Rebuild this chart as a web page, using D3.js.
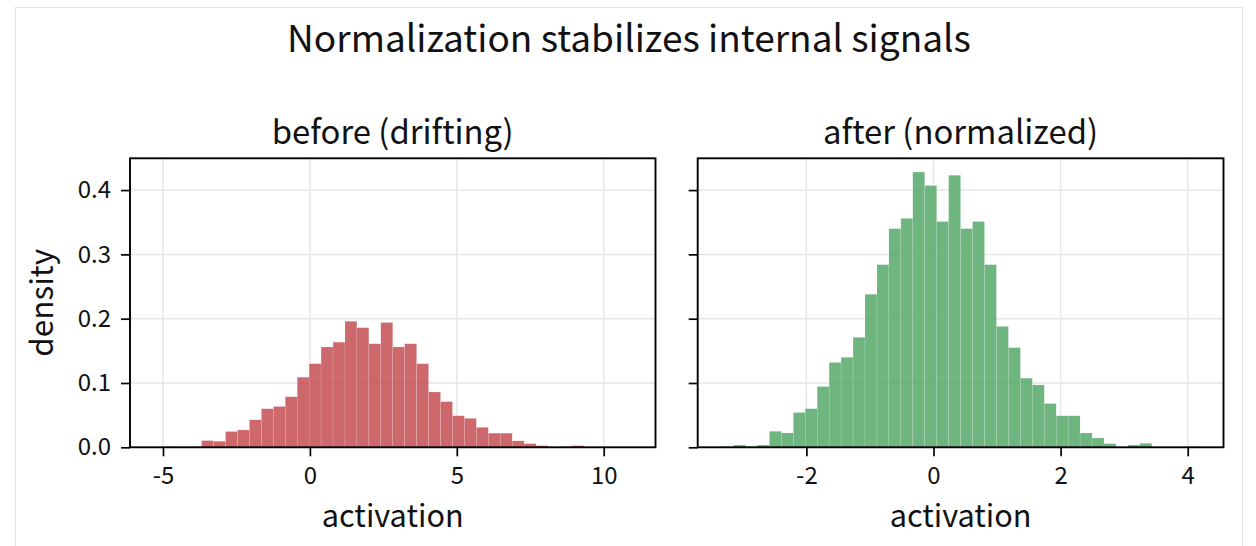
<!DOCTYPE html>
<html>
<head>
<meta charset="utf-8">
<script src="https://cdn.jsdelivr.net/npm/d3@7"></script>
<style>
  body { margin: 0; background: #fff; }
  text { font-family: "Noto Sans CJK SC", "Source Sans Pro", "Noto Sans", sans-serif; fill: #111; }
</style>
</head>
<body>
<script>
// histogram densities, 40 equal bins over each range
var beforeRange = [-5.31, 10.95];
var beforeDensity = [0.0005, 0.001, 0.0005, 0.001, 0.0104, 0.0094, 0.0245, 0.027, 0.0427, 0.060,
    0.0635, 0.0786, 0.109, 0.130, 0.156, 0.1635, 0.196, 0.186, 0.161, 0.194,
    0.156, 0.161, 0.130, 0.086, 0.071, 0.049, 0.045, 0.031, 0.022, 0.022,
    0.010, 0.0057, 0.0026, 0.0005, 0.001, 0.0026, 0, 0, 0, 0.0005];

var afterRange = [-3.334, 4.187];
var afterDensity = [0.001, 0.0036, 0.0016, 0.0036, 0.025, 0.0223, 0.054, 0.060, 0.0945, 0.132,
    0.140, 0.171, 0.238, 0.284, 0.340, 0.356, 0.428, 0.407, 0.351, 0.423,
    0.340, 0.351, 0.284, 0.188, 0.155, 0.1075, 0.097, 0.068, 0.049, 0.049,
    0.0223, 0.0145, 0.0057, 0, 0.0036, 0.0062, 0, 0, 0, 0.001];

var beforeTicks = [-5, 0, 5, 10];
var afterTicks = [-2, 0, 2, 4];
var yTicks = [0, 0.1, 0.2, 0.3, 0.4];

var titles = ["before (drifting)", "after (normalized)"];
var mainTitle = "Normalization stabilizes internal signals";

window.onload = draw();

function draw(){

    var width = 1256,
        height = 546,
        top = 158.3,
        bottom = 447.3;

    var svg = d3.select("body")
        .append("svg")
        .attr("width", width)
        .attr("height", height);

    // faint figure border
    svg.append("rect")
        .attr("x", 15.5).attr("y", 7.5)
        .attr("width", 1227).attr("height", 560)
        .attr("fill", "none")
        .attr("stroke", "#e2e2e2")
        .attr("stroke-width", 1);

    function fitWidth(sel, w){
        sel.attr("font-size", 20);
        var len = sel.node().getComputedTextLength();
        sel.attr("font-size", 20 * w / len);
    }

    // tick font size from the width of "0.0"
    var probe = svg.append("text").text("0.0");
    fitWidth(probe, 33.3);
    var tickFont = +probe.attr("font-size");
    probe.remove();

    var yMax = d3.max(beforeDensity.concat(afterDensity)) * 1.05;
    var y = d3.scaleLinear()
        .domain([0, yMax])
        .range([bottom, top]);

    svg.append("text")
        .attr("x", 629).attr("y", 52.3)
        .attr("text-anchor", "middle")
        .text(mainTitle)
        .call(fitWidth, 684);

    svg.append("text")
        .attr("transform", "translate(53," + (top + bottom) / 2 + ") rotate(-90)")
        .attr("text-anchor", "middle")
        .text("density")
        .call(fitWidth, 108);

    drawPanel(130, 655.5, beforeRange, beforeDensity, beforeTicks, "#C44E52", titles[0], 242, true);
    drawPanel(697.7, 1223.5, afterRange, afterDensity, afterTicks, "#55A868", titles[1], 275.3, false);

    function drawPanel(x0, x1, range, density, ticks, color, title, titleWidth, yLabels){
        var n = density.length,
            step = (range[1] - range[0]) / n,
            pad = (range[1] - range[0]) * 0.05;

        var x = d3.scaleLinear()
            .domain([range[0] - pad, range[1] + pad])
            .range([x0, x1]);

        var g = svg.append("g");

        // grid
        g.selectAll(".gx")
            .data(ticks)
            .enter()
            .append("line")
            .attr("x1", function(d){ return x(d); })
            .attr("x2", function(d){ return x(d); })
            .attr("y1", top).attr("y2", bottom)
            .attr("stroke", "#e6e6e6")
            .attr("stroke-width", 1.5);

        g.selectAll(".gy")
            .data(yTicks.slice(1))
            .enter()
            .append("line")
            .attr("x1", x0).attr("x2", x1)
            .attr("y1", function(d){ return y(d); })
            .attr("y2", function(d){ return y(d); })
            .attr("stroke", "#e6e6e6")
            .attr("stroke-width", 1.5);

        g.selectAll(".bar")
            .data(density)
            .enter()
            .append("rect")
            .attr("class", "bar")
            .attr("x", function(d, i){ return x(range[0] + i * step); })
            .attr("width", function(d, i){ return x(range[0] + (i + 1) * step) - x(range[0] + i * step); })
            .attr("y", function(d){ return y(d); })
            .attr("height", function(d){ return bottom - y(d); })
            .attr("fill", color)
            .attr("fill-opacity", 0.85)
            .attr("stroke", "#fff")
            .attr("stroke-opacity", 0.35)
            .attr("stroke-width", 0.4);

        var xAxis = g.append("g")
            .attr("transform", "translate(0," + bottom + ")")
            .call(d3.axisBottom(x)
                .tickValues(ticks)
                .tickFormat(function(d){ return String(d); })
                .tickSize(9)
                .tickPadding(11));

        var yAxis = g.append("g")
            .attr("transform", "translate(" + x0 + ",0)")
            .call(d3.axisLeft(y)
                .tickValues(yTicks)
                .tickFormat(yLabels ? d3.format(".1f") : "")
                .tickSize(9)
                .tickPadding(10));

        [xAxis, yAxis].forEach(function(a){
            a.select(".domain").remove();
            a.selectAll("line").attr("stroke", "#000").attr("stroke-width", 1.7);
            a.selectAll("text")
                .attr("font-size", tickFont)
                .attr("fill", "#111")
                .style("font-family", null);
            a.attr("font-family", null);
        });

        g.append("rect")
            .attr("x", x0).attr("y", top)
            .attr("width", x1 - x0).attr("height", bottom - top)
            .attr("fill", "none")
            .attr("stroke", "#000")
            .attr("stroke-width", 1.9);

        g.append("text")
            .attr("x", (x0 + x1) / 2).attr("y", 143.5)
            .attr("text-anchor", "middle")
            .text(title)
            .call(fitWidth, titleWidth);

        g.append("text")
            .attr("x", (x0 + x1) / 2).attr("y", 526.7)
            .attr("text-anchor", "middle")
            .text("activation")
            .call(fitWidth, 142);
    }
};
</script>
</body>
</html>
